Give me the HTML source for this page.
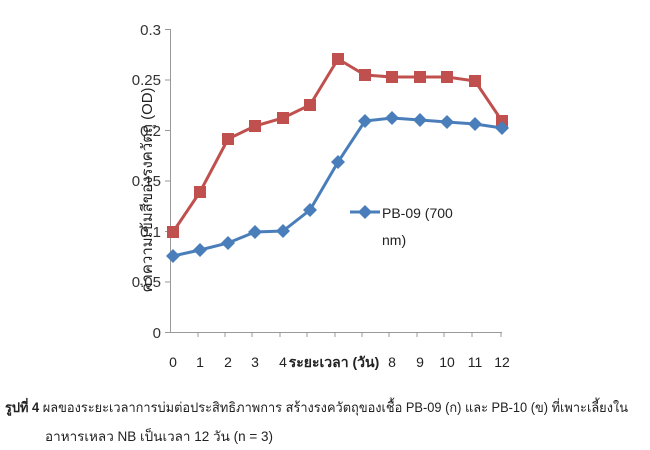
<!DOCTYPE html>
<html><head><meta charset="utf-8"><style>
body{margin:0;background:#fff;width:650px;height:450px;overflow:hidden;font-family:"Liberation Sans","Noto Sans CJK SC",sans-serif}
</style></head><body>
<svg width="650" height="450" xmlns="http://www.w3.org/2000/svg" style="position:absolute;left:0;top:0">
<g font-family="Liberation Sans, sans-serif" font-size="15" fill="#333" text-anchor="end">
<text x="161" y="35">0.3</text>
<text x="161" y="85">0.25</text>
<text x="161" y="136">0.2</text>
<text x="161" y="186">0.15</text>
<text x="161" y="237">0.1</text>
<text x="161" y="287">0.05</text>
<text x="161" y="338">0</text>
</g>
<text transform="translate(152,190) rotate(-90)" text-anchor="middle" font-size="15" fill="#222" textLength="205" lengthAdjust="spacingAndGlyphs" font-family="Liberation Sans, Noto Sans CJK SC, sans-serif">ค่าความเข้มสีของรงควัตถุ (OD)</text>
<g stroke="#999" stroke-width="1">
<line x1="170.5" y1="29" x2="170.5" y2="332"/>
<line x1="165" y1="29.5" x2="170" y2="29.5"/><line x1="165" y1="80" x2="170" y2="80"/><line x1="165" y1="130.5" x2="170" y2="130.5"/><line x1="165" y1="181" x2="170" y2="181"/><line x1="165" y1="231.5" x2="170" y2="231.5"/><line x1="165" y1="282" x2="170" y2="282"/>
<line x1="165" y1="332.5" x2="502" y2="332.5"/>
<line x1="198" y1="332" x2="198" y2="337"/><line x1="225" y1="332" x2="225" y2="337"/><line x1="252" y1="332" x2="252" y2="337"/><line x1="280" y1="332" x2="280" y2="337"/><line x1="307" y1="332" x2="307" y2="337"/><line x1="335" y1="332" x2="335" y2="337"/><line x1="362" y1="332" x2="362" y2="337"/><line x1="389" y1="332" x2="389" y2="337"/><line x1="417" y1="332" x2="417" y2="337"/><line x1="444" y1="332" x2="444" y2="337"/><line x1="472" y1="332" x2="472" y2="337"/><line x1="501" y1="332" x2="501" y2="337"/>
</g>
<polyline fill="none" stroke="#c0504d" stroke-width="3" points="173,232 200,192 228,139 255,126 283,118 310,105 338,59 365,75 392,77 420,77 447,77 475,81 502,121"/>
<g fill="#c0504d">
<rect x="167" y="226" width="12" height="12"/><rect x="194" y="186" width="12" height="12"/><rect x="222" y="133" width="12" height="12"/><rect x="249" y="120" width="12" height="12"/><rect x="277" y="112" width="12" height="12"/><rect x="304" y="99" width="12" height="12"/><rect x="332" y="53" width="12" height="12"/><rect x="359" y="69" width="12" height="12"/><rect x="386" y="71" width="12" height="12"/><rect x="414" y="71" width="12" height="12"/><rect x="441" y="71" width="12" height="12"/><rect x="469" y="75" width="12" height="12"/><rect x="496" y="115" width="12" height="12"/>
</g>
<polyline fill="none" stroke="#4a7ebb" stroke-width="3" points="173,256 200,250 228,243 255,232 283,231 310,210 338,162 365,121 392,118 420,120 447,122 475,124 502,128"/>
<g fill="#4a7ebb">
<path d="M173 249l7 7-7 7-7-7z"/><path d="M200 243l7 7-7 7-7-7z"/><path d="M228 236l7 7-7 7-7-7z"/><path d="M255 225l7 7-7 7-7-7z"/><path d="M283 224l7 7-7 7-7-7z"/><path d="M310 203l7 7-7 7-7-7z"/><path d="M338 155l7 7-7 7-7-7z"/><path d="M365 114l7 7-7 7-7-7z"/><path d="M392 111l7 7-7 7-7-7z"/><path d="M420 113l7 7-7 7-7-7z"/><path d="M447 115l7 7-7 7-7-7z"/><path d="M475 117l7 7-7 7-7-7z"/><path d="M502 121l7 7-7 7-7-7z"/>
<path d="M365 205l7 7-7 7-7-7z"/>
</g>
<line x1="350" y1="212" x2="380" y2="212" stroke="#4a7ebb" stroke-width="3"/>
<text x="382" y="218" font-size="14" fill="#222">PB-09 (700</text>
<text x="382" y="245" font-size="14" fill="#222">nm)</text>
<g font-size="14" fill="#222" text-anchor="middle">
<text x="173" y="367">0</text><text x="200" y="367">1</text><text x="228" y="367">2</text><text x="255" y="367">3</text><text x="283" y="367">4</text>
<text x="392" y="367">8</text><text x="420" y="367">9</text><text x="447" y="367">10</text><text x="475" y="367">11</text><text x="502" y="367">12</text>
<text x="334" y="367" font-weight="bold" font-family="Liberation Sans, Noto Sans CJK SC, sans-serif">ระยะเวลา (วัน)</text>
</g>
<g font-size="13.5" fill="#222" font-family="Liberation Sans, Noto Sans CJK SC, sans-serif">
<text x="5" y="412" textLength="623" lengthAdjust="spacingAndGlyphs"><tspan font-weight="bold">รูปที่ 4</tspan> ผลของระยะเวลาการบ่มต่อประสิทธิภาพการ สร้างรงควัตถุของเชื้อ PB-09 (ก) และ PB-10 (ข) ที่เพาะเลี้ยงใน</text>
<text x="45" y="441" textLength="228" lengthAdjust="spacingAndGlyphs">อาหารเหลว NB เป็นเวลา 12 วัน (n = 3)</text>
</g>
</svg>
</body></html>
